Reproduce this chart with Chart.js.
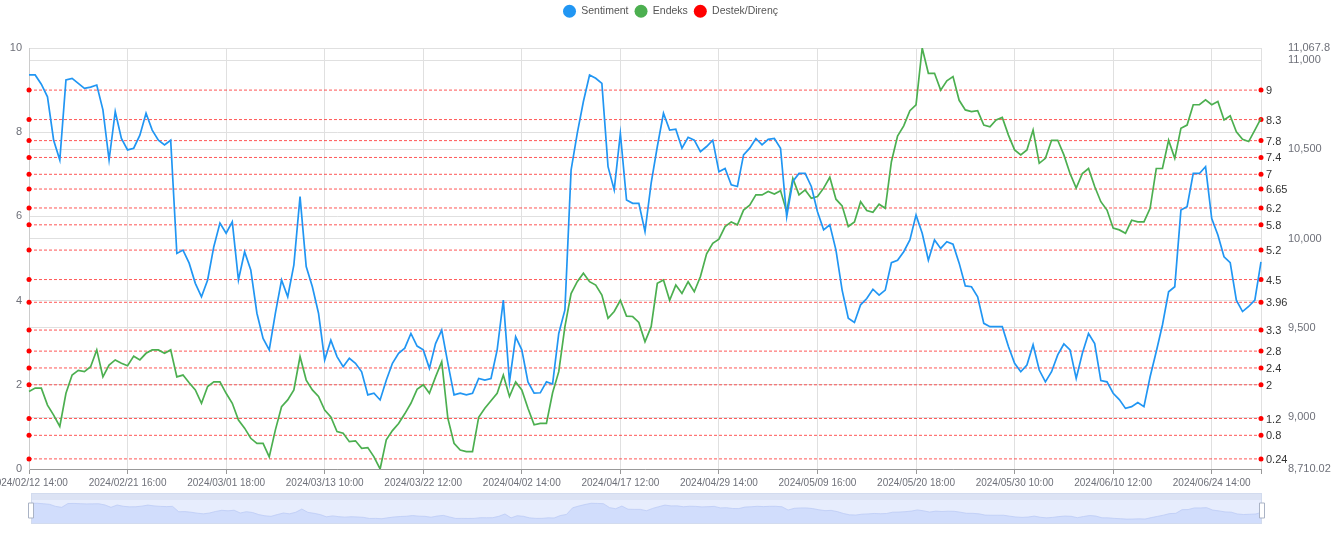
<!DOCTYPE html>
<html>
<head>
<meta charset="utf-8">
<script src="https://cdn.jsdelivr.net/npm/chart.js@4.4.1/dist/chart.umd.min.js"></script>
<style>
  html, body { margin: 0; padding: 0; background: #fff; }
  #wrap { position: relative; width: 1341px; height: 537px; overflow: hidden; }
  #main { position: absolute; left: 0; top: 0; }
  #zoom { position: absolute; left: 26px; top: 490px; }
</style>
</head>
<body>
<div id="wrap">
  <canvas id="main" width="1341" height="537"></canvas>
  <canvas id="zoom" width="1241" height="37"></canvas>
</div>
<script>
"use strict";

// sentiment (left axis, 0-10)
var sentiment = [
  9.36, 9.36, 9.14, 8.84, 7.81, 7.34, 9.24, 9.28, 9.16, 9.04,
  9.07, 9.12, 8.53, 7.34, 8.49, 7.85, 7.58, 7.62, 7.93, 8.45,
  8.05, 7.81, 7.70, 7.81, 5.12, 5.20, 4.89, 4.41, 4.09, 4.49,
  5.28, 5.84, 5.60, 5.87, 4.49, 5.16, 4.73, 3.70, 3.10, 2.83,
  3.70, 4.49, 4.09, 4.85, 6.47, 4.81, 4.33, 3.70, 2.59, 3.06,
  2.67, 2.43, 2.63, 2.51, 2.31, 1.76, 1.80, 1.64, 2.11, 2.51,
  2.75, 2.87, 3.22, 2.92, 2.83, 2.39, 2.98, 3.30, 2.51, 1.76,
  1.80, 1.76, 1.80, 2.15, 2.11, 2.15, 2.83, 4.01, 2.07, 3.14,
  2.83, 2.07, 1.80, 1.81, 2.07, 2.02, 3.22, 3.78, 7.10, 7.97,
  8.73, 9.36, 9.28, 9.16, 7.18, 6.63, 7.97, 6.39, 6.31, 6.31,
  5.64, 6.79, 7.66, 8.45, 8.05, 8.07, 7.62, 7.88, 7.81, 7.54,
  7.66, 7.81, 7.06, 7.14, 6.75, 6.71, 7.46, 7.62, 7.85, 7.70,
  7.83, 7.85, 7.62, 5.99, 6.83, 7.02, 7.02, 6.71, 6.11, 5.68,
  5.80, 5.20, 4.25, 3.58, 3.48, 3.90, 4.05, 4.27, 4.13, 4.25,
  4.90, 4.96, 5.16, 5.44, 6.03, 5.60, 4.96, 5.44, 5.24, 5.40,
  5.34, 4.89, 4.35, 4.33, 4.09, 3.46, 3.38, 3.38, 3.38, 2.91,
  2.51, 2.31, 2.47, 2.95, 2.35, 2.07, 2.31, 2.71, 2.97, 2.83,
  2.15, 2.75, 3.22, 2.98, 2.10, 2.07, 1.80, 1.65, 1.44, 1.48,
  1.58, 1.48, 2.19, 2.79, 3.42, 4.21, 4.33, 6.15, 6.23, 7.02,
  7.02, 7.18, 5.95, 5.56, 5.04, 4.90, 4.01, 3.74, 3.86, 4.01,
  4.92
];

// endeks (right axis)
var endeks = [
  9144, 9163, 9163, 9068, 9012, 8948, 9134, 9236, 9262, 9255,
  9283, 9377, 9226, 9292, 9321, 9302, 9288, 9342, 9321, 9358,
  9377, 9377, 9358, 9377, 9226, 9236, 9193, 9153, 9078, 9172,
  9198, 9198, 9134, 9078, 8984, 8939, 8882, 8854, 8854, 8778,
  8929, 9059, 9097, 9153, 9340, 9208, 9153, 9116, 9040, 9002,
  8920, 8910, 8863, 8868, 8826, 8830, 8778, 8710.02, 8873, 8925,
  8965, 9019, 9078, 9156, 9182, 9134, 9226, 9311, 8993, 8854,
  8816, 8807, 8807, 9000, 9050, 9092, 9134, 9236, 9116, 9198,
  9153, 9050, 8958, 8965, 8965, 9137, 9255, 9507, 9693, 9759,
  9806, 9759, 9740, 9684, 9554, 9592, 9655, 9566, 9564, 9531,
  9422, 9507, 9750, 9769, 9655, 9740, 9693, 9759, 9703, 9788,
  9915, 9974, 9997, 10068, 10094, 10078, 10160, 10188, 10245, 10245,
  10264, 10250, 10269, 10151, 10337, 10245, 10273, 10226, 10236, 10283,
  10344, 10221, 10184, 10068, 10094, 10207, 10158, 10148, 10193, 10170,
  10431, 10575, 10632, 10717, 10750, 11067.8, 10926, 10926, 10832, 10884,
  10908, 10775, 10721, 10712, 10717, 10636, 10627, 10665, 10679, 10580,
  10497, 10469, 10497, 10608, 10422, 10450, 10551, 10551, 10469, 10365,
  10283, 10365, 10393, 10292, 10207, 10160, 10059, 10049, 10030, 10103,
  10094, 10094, 10170, 10393, 10393, 10551, 10450, 10618, 10636, 10750,
  10750, 10778, 10750, 10768, 10665, 10688, 10599, 10556, 10544, 10608,
  10674
];

// destek / direnç levels (left axis)
var levels = [0.24, 0.8, 1.2, 2, 2.4, 2.8, 3.3, 3.96, 4.5, 5.2, 5.8, 6.2, 6.65, 7, 7.4, 7.8, 8.3, 9];

var xTickIdx = [0, 16, 32, 48, 64, 80, 96, 112, 128, 144, 160, 176, 192, 200];
var xTickLabels = [
  '2024/02/12 14:00', '2024/02/21 16:00', '2024/03/01 18:00', '2024/03/13 10:00',
  '2024/03/22 12:00', '2024/04/02 14:00', '2024/04/17 12:00', '2024/04/29 14:00',
  '2024/05/09 16:00', '2024/05/20 18:00', '2024/05/30 10:00', '2024/06/10 12:00',
  '2024/06/24 14:00', ''
];
var endeksTicks = [8710.02, 9000, 9500, 10000, 10500, 11000, 11067.8];

var labels = sentiment.map(function (_, i) { return i; });

Chart.defaults.font.family = '"Liberation Sans", Arial, sans-serif';
Chart.defaults.animation = false;

var BLUE = '#2196f3';
var GREEN = '#4caf50';
var RED = '#ff0000';
var GRID = '#e0e0e0';
var AXIS_TXT = '#6e7079';

// legend takes the whole band above the plot
var fixLegend = {
  id: 'fixLegend',
  beforeLayout: function (chart) {
    var lg = chart.legend;
    if (lg && !lg._fixed) {
      var fit = lg.fit;
      lg.fit = function () { fit.call(this); this.height = 48; };
      lg._fixed = true;
    }
  }
};

// level values written at the right end of each red line
var levelLabels = {
  id: 'levelLabels',
  afterDatasetsDraw: function (chart) {
    var ctx = chart.ctx, ys = chart.scales.y;
    ctx.save();
    ctx.font = '11px "Liberation Sans", Arial, sans-serif';
    ctx.fillStyle = '#333';
    ctx.textBaseline = 'middle';
    ctx.textAlign = 'left';
    levels.forEach(function (lv) {
      ctx.fillText(String(lv), chart.chartArea.right + 5, ys.getPixelForValue(lv) + 1);
    });
    ctx.restore();
  }
};

var levelSets = levels.map(function (lv, k) {
  return {
    label: k === 0 ? 'Destek/Direnç' : 'level ' + lv,
    data: [{ x: 0, y: lv }, { x: 200, y: lv }],
    yAxisID: 'y',
    borderColor: 'rgba(255,30,30,0.75)',
    backgroundColor: RED,
    borderWidth: 1,
    borderDash: [3, 2],
    pointRadius: 2.5,
    pointBackgroundColor: RED,
    pointBorderWidth: 0,
    pointHoverRadius: 2.5,
    clip: false
  };
});

new Chart(document.getElementById('main'), {
  type: 'line',
  data: {
    labels: labels,
    datasets: [{
      label: 'Sentiment',
      data: sentiment,
      yAxisID: 'y',
      borderColor: BLUE,
      backgroundColor: BLUE,
      borderWidth: 1.7,
      pointRadius: 0,
      tension: 0
    }, {
      label: 'Endeks',
      data: endeks,
      yAxisID: 'y1',
      borderColor: GREEN,
      backgroundColor: GREEN,
      borderWidth: 1.7,
      pointRadius: 0,
      tension: 0
    }].concat(levelSets)
  },
  options: {
    responsive: false,
    events: [],
    layout: { padding: 0 },
    plugins: {
      tooltip: { enabled: false },
      legend: {
        position: 'top',
        labels: {
          usePointStyle: true,
          pointStyleWidth: 13,
          boxHeight: 9.2,
          padding: 6,
          color: '#555',
          font: { size: 10.5 },
          generateLabels: function (chart) {
            var items = Chart.defaults.plugins.legend.labels.generateLabels(chart);
            return items.filter(function (it) { return it.datasetIndex <= 2; }).map(function (it) {
              it.lineWidth = 0;
              it.lineDash = [];
              it.strokeStyle = it.fillStyle;
              return it;
            });
          }
        }
      }
    },
    scales: {
      x: {
        type: 'category',
        offset: false,
        grid: { color: GRID, tickLength: 5, tickColor: '#999' },
        border: { color: '#999' },
        ticks: {
          autoSkip: false,
          maxRotation: 0,
          color: AXIS_TXT,
          font: { size: 10 },
          padding: 3,
          callback: function (v) { return xTickLabels[xTickIdx.indexOf(v)]; }
        },
        afterBuildTicks: function (s) {
          s.ticks = xTickIdx.map(function (v) { return { value: v }; });
        },
        afterFit: function (s) {
          s.height = 68;
          s.paddingLeft = 0;
          s.paddingRight = 0;
        }
      },
      y: {
        position: 'left',
        min: 0,
        max: 10,
        grid: { color: GRID, drawTicks: false },
        border: { color: '#ccc' },
        ticks: { stepSize: 2, color: AXIS_TXT, font: { size: 11 }, padding: 7 },
        afterFit: function (s) { s.width = 29; }
      },
      y1: {
        position: 'right',
        min: 8710.02,
        max: 11067.8,
        grid: { color: GRID, drawTicks: false },
        border: { display: false },
        ticks: {
          color: AXIS_TXT,
          font: { size: 11 },
          padding: 27,
          callback: function (v) { return v.toLocaleString('en-US', { maximumFractionDigits: 2 }); }
        },
        afterBuildTicks: function (s) {
          s.ticks = endeksTicks.map(function (v) { return { value: v }; });
        },
        afterFit: function (s) { s.width = 80; }
      }
    }
  },
  plugins: [fixLegend, levelLabels]
});

// data zoom slider under the chart
var zoomFrame = {
  id: 'zoomFrame',
  beforeDraw: function (chart) {
    var ctx = chart.ctx, a = chart.chartArea;
    ctx.save();
    ctx.fillStyle = 'rgb(231,237,253)';
    ctx.fillRect(a.left, a.top, a.right - a.left, a.bottom - a.top);
    ctx.fillStyle = 'rgb(220,227,244)';
    ctx.fillRect(a.left, a.top, a.right - a.left, 7);
    ctx.restore();
  },
  afterDraw: function (chart) {
    var ctx = chart.ctx, a = chart.chartArea;
    ctx.save();
    ctx.strokeStyle = 'rgb(210,219,238)';
    ctx.lineWidth = 1;
    ctx.strokeRect(a.left + 0.5, a.top + 0.5, a.right - a.left - 1, a.bottom - a.top - 1);
    [a.left, a.right].forEach(function (x) {
      ctx.fillStyle = '#fff';
      ctx.strokeStyle = '#aab3c5';
      ctx.beginPath();
      ctx.rect(x - 2.5, a.top + 10, 5, 15);
      ctx.fill();
      ctx.stroke();
    });
    ctx.restore();
  }
};

new Chart(document.getElementById('zoom'), {
  type: 'line',
  data: {
    labels: labels,
    datasets: [{
      data: sentiment,
      fill: 'start',
      backgroundColor: 'rgb(209,221,252)',
      borderColor: 'rgb(188,204,245)',
      borderWidth: 0.8,
      pointRadius: 0,
      tension: 0
    }]
  },
  options: {
    responsive: false,
    events: [],
    layout: { padding: { left: 5, right: 5, top: 3, bottom: 3 } },
    plugins: { legend: { display: false }, tooltip: { enabled: false } },
    scales: {
      x: { display: false, offset: false },
      y: { display: false, min: -1, max: 14.5 }
    }
  },
  plugins: [zoomFrame]
});
</script>
</body>
</html>
